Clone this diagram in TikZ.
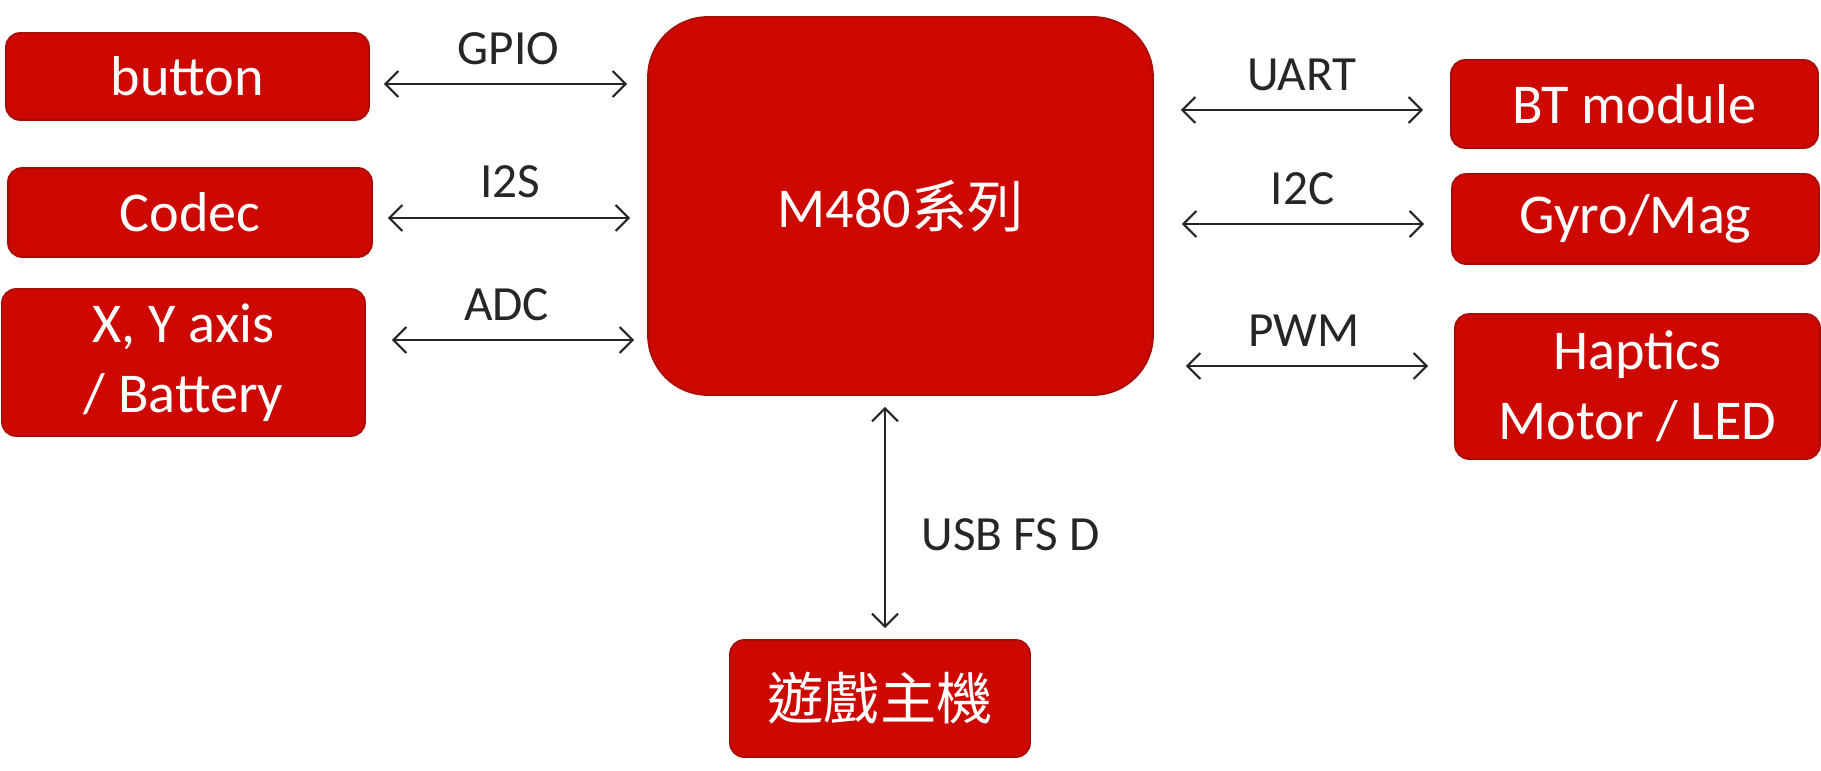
\documentclass[tikz,border=0pt]{standalone}
\usepackage{fontspec}
\setmainfont{Carlito}
\newfontfamily\cjk{Noto Sans CJK TC}
\usepackage{tikz}
\usetikzlibrary{arrows.meta}
\definecolor{NuRed}{RGB}{204,8,0}
\definecolor{NuRedDark}{RGB}{168,12,6}
\definecolor{NuInk}{RGB}{38,38,38}

\begin{document}
\begin{tikzpicture}[
      nbox/.style={rectangle, rounded corners=4pt, fill=NuRed, draw=NuRedDark,
                   line width=0.5pt, text=white, align=center, inner sep=0pt,
                   font=\fontsize{16}{20}\selectfont},
      arr/.style={{Straight Barb[length=1.3mm, width=2.6mm]}-{Straight Barb[length=1.3mm, width=2.6mm]},
                  draw=NuInk, line width=0.6pt},
      lbl/.style={font=\fontsize{14}{16}\selectfont, text=NuInk}
    ]
    \useasboundingbox (0,0) rectangle (18.21,7.70);

    \node[nbox, minimum width=3.63cm, minimum height=0.87cm] (btn)    at (1.875, 6.935)
          {button};
    \node[nbox, minimum width=3.64cm, minimum height=0.89cm] (codec)  at (1.90, 5.575)
          {Codec};
    \node[nbox, minimum width=3.63cm, minimum height=1.47cm] (axis)   at (1.835, 4.075)
          {X, Y axis\\/ Battery};
    \node[nbox, rounded corners=0.6cm, minimum width=5.05cm, minimum height=3.78cm] (mcu) at (9.005, 5.64)
          {M480{\cjk 系列}};
    \node[nbox, minimum width=3.67cm, minimum height=0.88cm] (bt)     at (16.345, 6.66)
          {BT module};
    \node[nbox, minimum width=3.67cm, minimum height=0.90cm] (gyro)   at (16.355, 5.51)
          {Gyro/Mag};
    \node[nbox, minimum width=3.65cm, minimum height=1.45cm] (haptic) at (16.375, 3.835)
          {Haptics\\Motor / LED};
    \node[nbox, minimum width=3.00cm, minimum height=1.17cm] (host)   at (8.80, 0.715)
          {\cjk 遊戲主機};

    \foreach \n/\dy/\sa/\sb/\lab in {btn/-0.075cm/0.14cm/0.20cm/GPIO,
                                     codec/-0.055cm/0.15cm/0.17cm/I2S,
                                     axis/0.225cm/0.26cm/0.13cm/ADC}{
      \draw[arr, shorten <=\sa, shorten >=\sb] ([yshift=\dy]\n.east) -- ([yshift=\dy]\n.east -| mcu.west)
        node[lbl, midway, anchor=base, yshift=0.2cm] {\lab};
    }

    \foreach \n/\dy/\sa/\sb/\lab in {bt/-0.06cm/0.27cm/0.27cm/UART,
                                     gyro/-0.05cm/0.28cm/0.27cm/I2C,
                                     haptic/0.205cm/0.32cm/0.26cm/PWM}{
      \draw[arr, shorten <=\sa, shorten >=\sb] ([yshift=\dy]\n.west -| mcu.east) -- ([yshift=\dy]\n.west)
        node[lbl, midway, anchor=base, yshift=0.2cm] {\lab};
    }

    \draw[arr, shorten <=0.11cm, shorten >=0.11cm] ([xshift=0.05cm]host.north) -- ([xshift=0.05cm]host.north |- mcu.south)
      node[lbl, pos=0.43, anchor=west, xshift=0.24cm] {USB FS D};
  \end{tikzpicture}
\end{document}
